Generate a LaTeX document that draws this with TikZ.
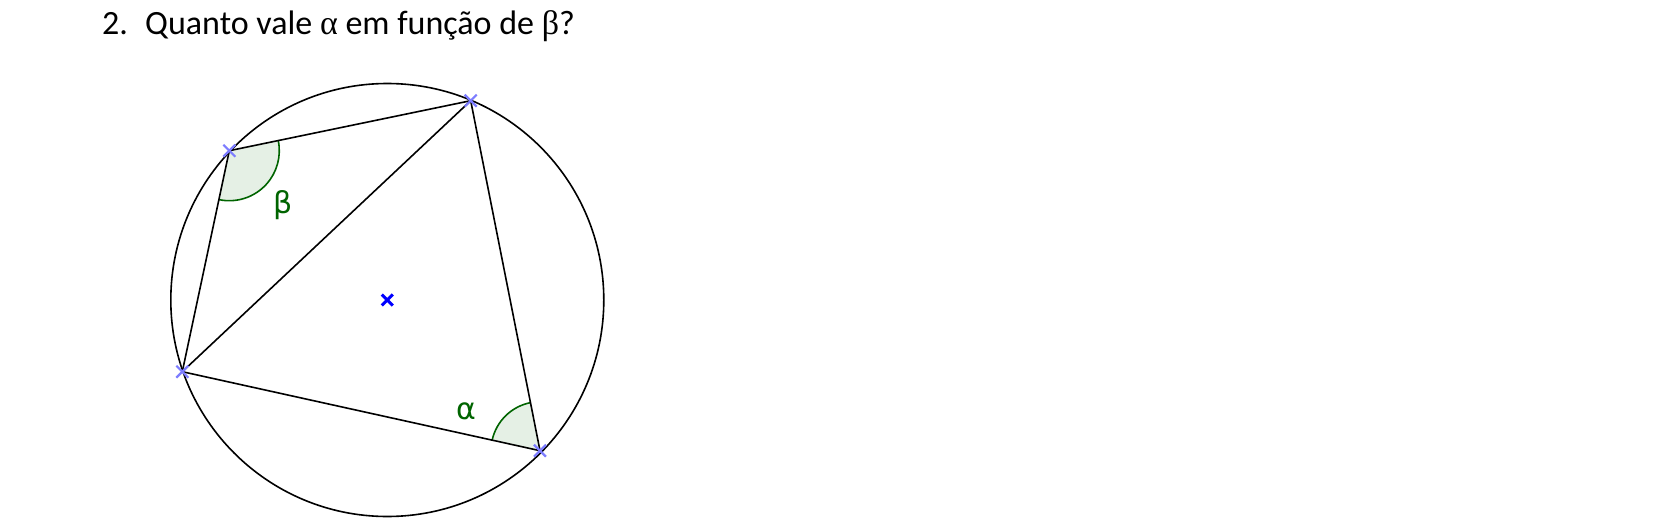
\documentclass[tikz,border=0pt]{standalone}
\usepackage{fontspec}
\setmainfont{Carlito}
\newfontfamily\greekserif{Liberation Serif}
\newfontfamily\labelfont{DejaVu Sans}
\usetikzlibrary{angles}
\definecolor{angcol}{RGB}{0,100,0}
\definecolor{angfill}{RGB}{229,240,229}
\definecolor{ptcol}{RGB}{125,125,255}
\tikzset{
  seg/.style={draw=black, line width=1.6pt},
  ptmark/.style={draw=ptcol, line width=2.2pt},
  ctrmark/.style={draw=blue, line width=3pt},
  anglab/.style={text=angcol, font=\labelfont\fontsize{30}{34}\selectfont, inner sep=0pt},
  title/.style={anchor=base west, inner sep=0pt, font=\fontsize{34}{40}\selectfont}
}
\begin{document}
\begin{tikzpicture}[x=1pt,y=1pt]
\useasboundingbox (0,0) rectangle (1653,-532);
% points
\coordinate (A) at (229.3,-150.7);
\coordinate (B) at (470.7,-100.7);
\coordinate (C) at (182.3,-371.7);
\coordinate (D) at (540,-450.7);
\coordinate (O) at (387.3,-300);
% title
\node[title] (num) at (102,-35) {2.};
\node[title] (q) at (145,-35) {Quanto vale {\greekserif α} em função de {\greekserif β}?};
% angle sectors
\pic[draw=angcol, fill=angfill, line width=1.6pt, angle radius=50pt] {angle=C--A--B};
\pic[draw=angcol, fill=angfill, line width=1.6pt, angle radius=49pt] {angle=B--D--C};
% circle
\draw[seg] (O) circle[radius=216.5];
% segments
\draw[seg] (A) -- (B);
\draw[seg] (A) -- (C);
\draw[seg] (C) -- (B);
\draw[seg] (B) -- (D);
\draw[seg] (C) -- (D);
% labels
\node[anglab] (beta) at (283,-205) {β};
\node[anglab] (alpha) at (466,-411) {α};
% point marks
\foreach \p in {A,B,C,D}{
  \draw[ptmark] ([shift={(-6,-6)}]\p) -- ([shift={(6,6)}]\p);
  \draw[ptmark] ([shift={(-6,6)}]\p) -- ([shift={(6,-6)}]\p);
}
\draw[ctrmark] ([shift={(-5.5,-5.5)}]O) -- ([shift={(5.5,5.5)}]O);
\draw[ctrmark] ([shift={(-5.5,5.5)}]O) -- ([shift={(5.5,-5.5)}]O);
\end{tikzpicture}
\end{document}
